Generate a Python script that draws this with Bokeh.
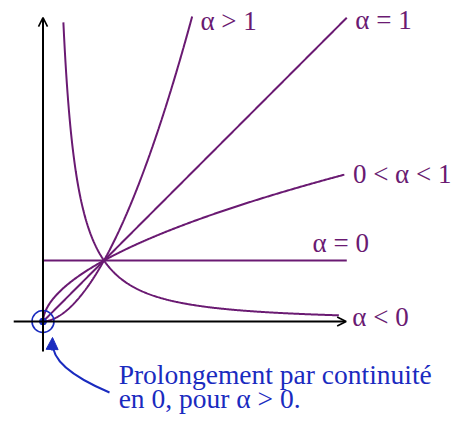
import numpy as np
from bokeh.plotting import figure
from bokeh.models import Arrow, OpenHead, NormalHead
from bokeh.embed import file_html
from bokeh.resources import INLINE
from bokeh.core.properties import value

# ---- data ----
alphas = [1.8, 1.0, 0.55, 0.0, -1.45]
x_starts = [0.0, 0.0, 0.0, 0.0, 0.334]
x_ends = [2.445, 4.98, 4.94, 4.98, 4.85]
labels = ["α > 1", "α = 1", "0 < α < 1", "α = 0", "α < 0"]
label_x = [2.58, 5.12, 5.08, 4.42, 5.07]
label_y = [4.93, 4.95, 2.41, 1.28, 0.07]

axis_x = [-0.48, 4.97]
axis_y = [-0.49, 4.98]

note_lines = ["Prolongement par continuité", "en 0, pour α > 0."]
note_x = [1.24, 1.24]
note_y = [-0.87, -1.26]

PURPLE = "#6a1a72"
BLUE = "#1a2bbf"

# pixel scale: origin at (42.5, 321) in the picture, 61 px per unit
W, H = 453, 415
U = 61.0
ox, oy = 42.5, 321
x_range = (-ox / U, (W - ox) / U)
y_range = (-(H - oy) / U, oy / U)

p = figure(width=W, height=H, x_range=x_range, y_range=y_range,
           output_backend="svg", toolbar_location=None,
           x_axis_type=None, y_axis_type=None,
           min_border=0, min_border_left=0, min_border_right=0,
           min_border_top=0, min_border_bottom=0)
p.grid.visible = False
p.outline_line_color = None
p.background_fill_color = "white"

# axes with arrows
p.add_layout(Arrow(end=OpenHead(size=9, line_width=1.6, line_color="black"),
                   x_start=axis_x[0], y_start=0, x_end=axis_x[1], y_end=0,
                   line_width=2, line_color="black"))
p.add_layout(Arrow(end=OpenHead(size=9, line_width=1.6, line_color="black"),
                   x_start=0, y_start=axis_y[0], x_end=0, y_end=axis_y[1],
                   line_width=2, line_color="black"))

# power curves
for a, xs0, xs1 in zip(alphas, x_starts, x_ends):
    xs = np.linspace(xs0, xs1, 400)
    ys = np.power(xs, a) if a != 0 else np.ones_like(xs)
    p.line(xs, ys, line_color=PURPLE, line_width=2)

p.text(x=label_x, y=label_y, text=labels, text_color=PURPLE,
       text_font=value("Liberation Serif"), text_font_size="27px",
       text_align="left", text_baseline="middle")

# origin marker
p.scatter([0], [0], size=7, color=BLUE)
p.scatter([0], [0], size=22, fill_color=None, line_color=BLUE, line_width=1.6)

# curved arrow
def px(xp):
    return (xp - ox) / U

def py(yp):
    return (oy - yp) / U

p.quadratic(x0=[px(109)], y0=[py(392)], x1=[px(52.5)], y1=[py(342)],
            cx=[px(50)], cy=[py(367)], line_color=BLUE, line_width=2)
p.add_layout(Arrow(end=NormalHead(size=12, fill_color=BLUE, line_color=BLUE, line_width=1),
                   x_start=px(51.6), y_start=py(350), x_end=px(52), y_end=py(337),
                   line_width=2, line_color=BLUE))

p.text(x=note_x, y=note_y, text=note_lines, text_color=BLUE,
       text_font=value("Liberation Serif"), text_font_size="27.5px",
       text_align="left", text_baseline="middle")

open("out.html", "w").write(file_html(p, INLINE))
